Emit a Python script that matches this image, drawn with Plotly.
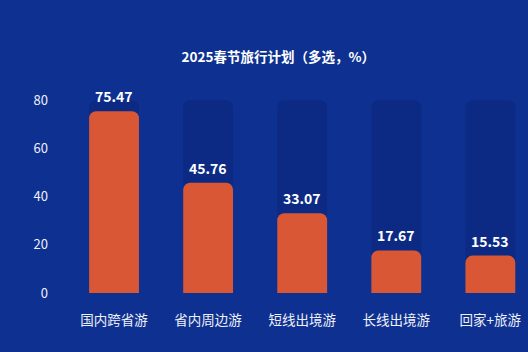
import plotly.graph_objects as go

categories = ["国内跨省游", "省内周边游", "短线出境游", "长线出境游", "回家+旅游"]
values = [75.47, 45.76, 33.07, 17.67, 15.53]
background_values = [80, 80, 80, 80, 80]
tick_vals = [0, 20, 40, 60, 80]

FONT = "Noto Sans CJK SC"
BG = "#0e3191"

fig = go.Figure()
fig.add_trace(go.Bar(
    x=categories, y=background_values,
    marker=dict(color="#0c2a84", cornerradius=7, line=dict(width=0)),
    width=0.53, hoverinfo="skip", showlegend=False,
))
fig.add_trace(go.Bar(
    x=categories, y=values, xaxis="x2",
    marker=dict(color="#d95735", cornerradius=7, line=dict(width=0)),
    width=0.53,
    showlegend=False,
))

for c, v in zip(categories, values):
    fig.add_annotation(x=c, y=v, text=f"{v:.2f}", showarrow=False,
                       yanchor="middle", yshift=15,
                       font=dict(family=FONT, size=14, color="white", weight="bold"))

fig.update_layout(
    width=528, height=352,
    paper_bgcolor=BG, plot_bgcolor=BG,
    margin=dict(l=67, r=0, t=80, b=59),
    title=dict(text="2025春节旅行计划（多选，%）", x=0.527, xanchor="center",
               y=1 - 57/352, yanchor="middle",
               font=dict(family=FONT, size=13.5, color="white", weight="bold")),
    xaxis=dict(range=[-0.5, 4.4], showgrid=False, zeroline=False, showline=False,
               tickfont=dict(family=FONT, size=13.5, color="#eef0f8"), ticks="", ticklabelstandoff=17),
    xaxis2=dict(range=[-0.5, 4.4], overlaying="x", visible=False, categoryorder="array",
                categoryarray=categories),
    yaxis=dict(range=[0, 88.4], tickvals=tick_vals, showgrid=False, zeroline=False,
               showline=False, tickfont=dict(family=FONT, size=13, color="#eef0f8"),
               ticks="", ticklabelstandoff=18),
    font=dict(family=FONT),
)

fig.write_html("out.html")
